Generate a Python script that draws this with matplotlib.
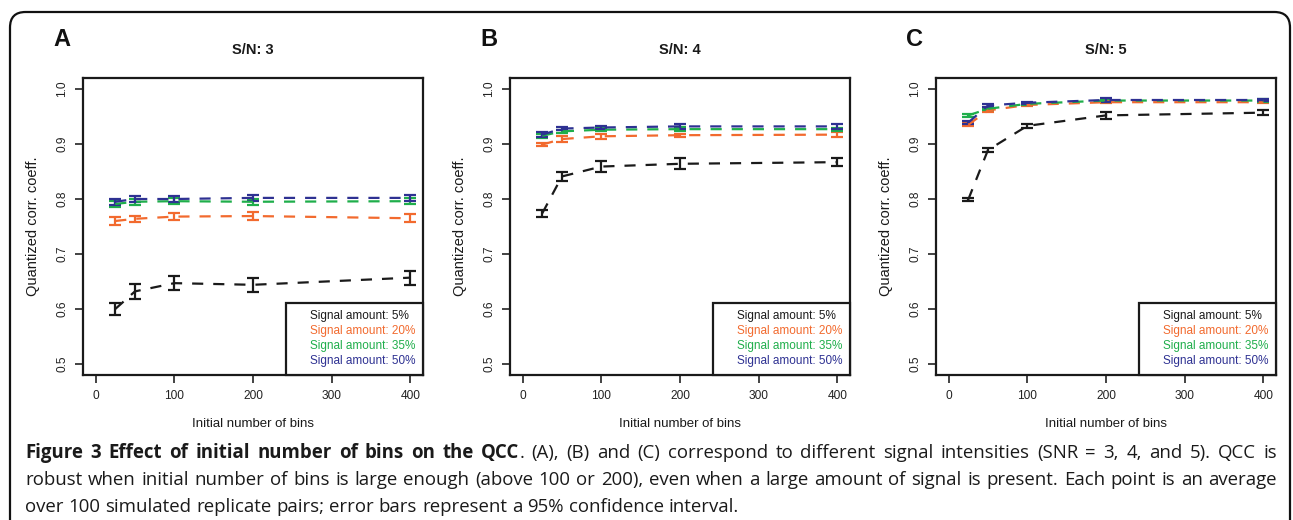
"""Figure 3: QCC vs initial number of bins, three S/N panels with a justified caption."""
import matplotlib
matplotlib.use("Agg")
import matplotlib.pyplot as plt
from matplotlib.lines import Line2D
from matplotlib.patches import FancyBboxPatch

W, H = 1293, 520
PLOT_FONT = "Liberation Sans"
CAPTION_FONT = "Open Sans"

bins = [25, 50, 100, 200, 400]
signal_labels = ["Signal amount: 5%", "Signal amount: 20%",
                 "Signal amount: 35%", "Signal amount: 50%"]
colors = ["#1a1a1a", "#f26a2e", "#1fae4b", "#2e3192"]
panel_letters = ["A", "B", "C"]
panel_titles = ["S/N: 3", "S/N: 4", "S/N: 5"]

# mean QCC per signal amount (rows) and bin count (cols), one block per S/N
sn3_mean = [[0.600, 0.632, 0.647, 0.644, 0.657],
            [0.760, 0.764, 0.768, 0.769, 0.765],
            [0.791, 0.795, 0.796, 0.795, 0.796],
            [0.795, 0.800, 0.800, 0.802, 0.802]]
sn3_err = [[0.011, 0.014, 0.013, 0.013, 0.013],
           [0.007, 0.006, 0.006, 0.008, 0.007],
           [0.005, 0.005, 0.005, 0.005, 0.005],
           [0.005, 0.006, 0.006, 0.006, 0.006]]
sn4_mean = [[0.774, 0.841, 0.859, 0.864, 0.867],
            [0.899, 0.909, 0.914, 0.916, 0.917],
            [0.915, 0.923, 0.926, 0.927, 0.927],
            [0.917, 0.928, 0.930, 0.932, 0.932]]
sn4_err = [[0.006, 0.008, 0.010, 0.010, 0.007],
           [0.003, 0.005, 0.004, 0.003, 0.004],
           [0.004, 0.003, 0.003, 0.004, 0.003],
           [0.004, 0.003, 0.003, 0.005, 0.004]]
sn5_mean = [[0.799, 0.889, 0.933, 0.952, 0.957],
            [0.935, 0.961, 0.971, 0.976, 0.976],
            [0.952, 0.964, 0.973, 0.979, 0.979],
            [0.939, 0.970, 0.975, 0.980, 0.980]]
sn5_err = [[0.003, 0.004, 0.004, 0.006, 0.005],
           [0.003, 0.003, 0.002, 0.002, 0.002],
           [0.003, 0.002, 0.002, 0.002, 0.002],
           [0.003, 0.002, 0.002, 0.003, 0.002]]

x_ticks = [0, 100, 200, 300, 400]
y_ticks = [0.5, 0.6, 0.7, 0.8, 0.9, 1.0]

caption_bold = "Figure 3 Effect of initial number of bins on the QCC"
caption_lines = [
    "Figure 3 Effect of initial number of bins on the QCC. (A), (B) and (C) correspond "
    "to different signal intensities (SNR = 3, 4, and 5). QCC is",
    "robust when initial number of bins is large enough (above 100 or 200), even when a "
    "large amount of signal is present. Each point is an average",
    "over 100 simulated replicate pairs; error bars represent a 95% confidence interval.",
]

# layout in pixels (left edge of each plot box, shared top/bottom)
axes_left = [83, 510, 936]
axes_width, axes_top, axes_bottom = 340, 78, 375


def fx(px):
    return px / W


def fy(py):
    return 1 - py / H


fig = plt.figure(figsize=(W / 100, H / 100), dpi=100)
fig.patch.set_facecolor("white")

# rounded outer frame (bottom edge runs off the picture)
fig.patches.append(FancyBboxPatch(
    (fx(10), fy(560)), fx(1290 - 10), (560 - 12) / H,
    boxstyle="round,pad=0,rounding_size=0.012", transform=fig.transFigure,
    facecolor="none", edgecolor="#111111", linewidth=1.6, mutation_aspect=W / H))

panels = [(sn3_mean, sn3_err), (sn4_mean, sn4_err), (sn5_mean, sn5_err)]
for left, letter, title, (means, errs) in zip(axes_left, panel_letters, panel_titles, panels):
    ax = fig.add_axes([fx(left), fy(axes_bottom), fx(axes_width), (axes_bottom - axes_top) / H])
    for mean, err, color in zip(means, errs, colors):
        ax.errorbar(bins, mean, yerr=err, color=color, linestyle=(0, (5, 4.5)), linewidth=1.6,
                    elinewidth=1.6, capsize=4.2, capthick=1.6)
    ax.set_xlim(-16, 416)
    ax.set_ylim(0.48, 1.02)
    ax.set_xticks(x_ticks)
    ax.set_xticklabels([str(t) for t in x_ticks], fontsize=8.6, family=PLOT_FONT)
    ax.set_yticks(y_ticks)
    ax.set_yticklabels([f"{t:.1f}" for t in y_ticks], fontsize=8.6, family=PLOT_FONT,
                       rotation=90, va="center")
    ax.tick_params(length=5.5, width=1.2, color="#222222", pad=5, labelcolor="#222222")
    for spine in ax.spines.values():
        spine.set_linewidth(1.6)
        spine.set_color("#1a1a1a")

    handles = [Line2D([], [], color="none") for _ in signal_labels]
    leg = ax.legend(handles, signal_labels, loc="lower right", borderaxespad=0,
                    fancybox=False, edgecolor="#1a1a1a", framealpha=1, labelcolor=colors,
                    prop={"family": PLOT_FONT, "size": 8.5}, handlelength=0.8,
                    handletextpad=0.6, labelspacing=0.25, borderpad=0.65)
    leg.get_frame().set_linewidth(1.6)

    cx = left + axes_width / 2
    fig.text(fx(cx), fy(50), title, ha="center", va="center", fontsize=10.5,
             fontweight="bold", family=PLOT_FONT, color="#1a1a1a")
    fig.text(fx(left - 30), fy(39), letter, ha="left", va="center", fontsize=17,
             fontweight="bold", family=PLOT_FONT, color="#111111")
    fig.text(fx(cx), fy(424), "Initial number of bins", ha="center", va="center",
             fontsize=9.5, family=PLOT_FONT, color="#1a1a1a")
    fig.text(fx(left - 50), fy((axes_top + axes_bottom) / 2), "Quantized corr. coeff.",
             ha="center", va="center", rotation=90, fontsize=10.5, family=PLOT_FONT,
             color="#1a1a1a")

# justified caption, word by word
renderer = fig.canvas.get_renderer()
caption_size = 13.4


def text_width(s, weight):
    t = fig.text(0, 0, s, fontsize=caption_size, family=CAPTION_FONT, fontweight=weight)
    w = t.get_window_extent(renderer).width
    t.remove()
    return w


n_bold = len(caption_bold.split())
space_w = text_width("a a", "normal") - text_width("aa", "normal")
line_x0, line_x1 = 25, 1277
baselines = [458, 485, 512]
for i, (line, base) in enumerate(zip(caption_lines, baselines)):
    words = []
    for j, word in enumerate(line.split()):
        if i == 0 and j < n_bold:
            bold_part = caption_bold.split()[j]
            segs = [(bold_part, "bold")]
            if word != bold_part:
                segs.append((word[len(bold_part):], "normal"))
        else:
            segs = [(word, "normal")]
        words.append([(s, wt, text_width(s, wt)) for s, wt in segs])
    total = sum(w for segs in words for _, _, w in segs)
    last = i == len(caption_lines) - 1
    gap = space_w if last else (line_x1 - line_x0 - total) / (len(words) - 1)
    x = line_x0
    for segs in words:
        for s, wt, w in segs:
            fig.text(fx(x), fy(base), s, fontsize=caption_size, family=CAPTION_FONT,
                     fontweight=wt, va="baseline", ha="left", color="#1a1a1a")
            x += w
        x += gap

fig.savefig("out.png", dpi=100)
